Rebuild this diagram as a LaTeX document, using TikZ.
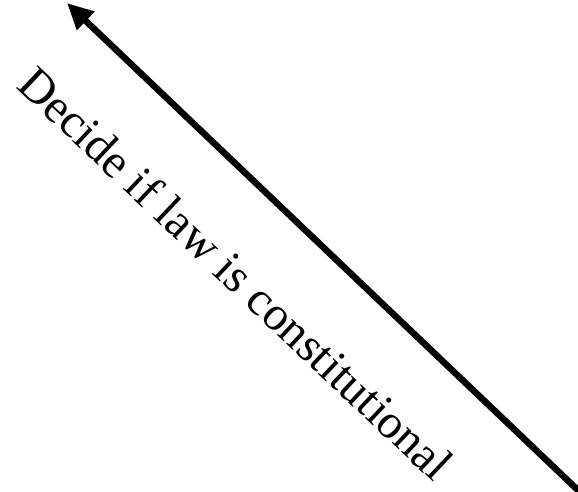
\documentclass[tikz,border=0pt]{standalone}
\usepackage{fontspec}
\setmainfont{Liberation Serif}
\usetikzlibrary{arrows.meta}
\begin{document}
\begin{tikzpicture}[x=1pt,y=-1pt]
\path[use as bounding box] (0,0) rectangle (578,491);
\coordinate (start) at (582,494);
\coordinate (tip) at (67,3);
\draw[line width=6.5pt,-{Triangle[length=26pt,width=24pt]}] (start) -- (tip);
\node[inner sep=0pt,outer sep=0pt,rotate=-43.4,font=\fontsize{48}{58}\selectfont] (label) at (236,273) {Decide if law is constitutional};
\end{tikzpicture}
\end{document}
